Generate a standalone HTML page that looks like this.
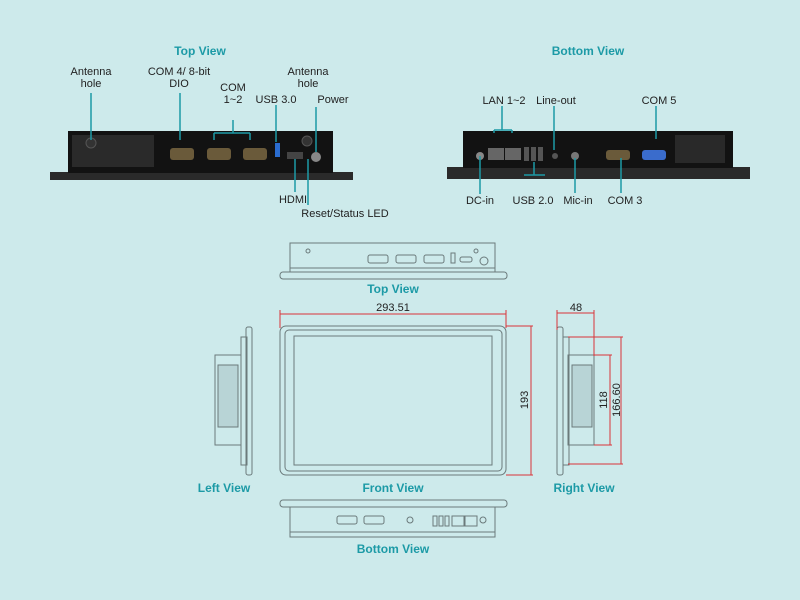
<!DOCTYPE html>
<html><head><style>
body{margin:0;background:#cdeaeb;}
svg{display:block;font-family:"Liberation Sans",sans-serif;}
.l{font-size:11px;fill:#222;text-anchor:middle;}
.t{font-size:12px;fill:#1c9aa6;font-weight:bold;text-anchor:middle;}
.c{stroke:#1c9aa6;stroke-width:1.5;fill:none;}
.d{stroke:#6b7a7b;stroke-width:1;fill:none;}
.r{stroke:#d9343a;stroke-width:1;fill:none;}
.n{font-size:11px;fill:#222;text-anchor:middle;}
</style></head><body>
<svg width="800" height="600" viewBox="0 0 800 600">
<rect width="800" height="600" fill="#cdeaeb"/>
<!-- Top photo -->
<text class="t" x="200" y="55">Top View</text>
<rect x="50" y="172" width="303" height="8" fill="#2a2a2a"/>
<rect x="68" y="131" width="265" height="42" fill="#121212"/>
<rect x="72" y="135" width="82" height="32" fill="#3a3a3a" opacity=".6"/>
<circle cx="91" cy="143" r="5" fill="#333" stroke="#555"/>
<circle cx="307" cy="141" r="5" fill="#333" stroke="#555"/>
<circle cx="316" cy="157" r="5" fill="#888"/>
<g fill="#6a5a3a"><rect x="170" y="148" width="24" height="12" rx="3"/><rect x="207" y="148" width="24" height="12" rx="3"/><rect x="243" y="148" width="24" height="12" rx="3"/></g>
<rect x="275" y="143" width="5" height="14" fill="#2a6ccf"/>
<rect x="287" y="152" width="16" height="7" fill="#444"/>
<g class="c"><path d="M91 93V140M180 93V140M233 120V133M214 133H250M214 133V140M250 133V140M276 105V142M316 107V152M295 159V192M308 159V205"/></g>
<text class="l" x="91" y="75">Antenna</text><text class="l" x="91" y="87">hole</text>
<text class="l" x="179" y="75">COM 4/ 8-bit</text><text class="l" x="179" y="87">DIO</text>
<text class="l" x="233" y="91">COM</text><text class="l" x="233" y="103">1~2</text>
<text class="l" x="276" y="103">USB 3.0</text>
<text class="l" x="308" y="75">Antenna</text><text class="l" x="308" y="87">hole</text>
<text class="l" x="333" y="103">Power</text>
<text class="l" x="293" y="203">HDMI</text>
<text class="l" x="345" y="217">Reset/Status LED</text>
<!-- Bottom photo -->
<text class="t" x="588" y="55">Bottom View</text>
<rect x="447" y="167" width="303" height="12" fill="#2a2a2a"/>
<rect x="463" y="131" width="270" height="37" fill="#121212"/>
<circle cx="480" cy="156" r="4" fill="#888"/>
<rect x="488" y="148" width="16" height="12" fill="#666"/><rect x="505" y="148" width="16" height="12" fill="#666"/>
<rect x="524" y="147" width="5" height="14" fill="#555"/><rect x="531" y="147" width="5" height="14" fill="#555"/><rect x="538" y="147" width="5" height="14" fill="#555"/>
<circle cx="555" cy="156" r="3" fill="#555"/><circle cx="575" cy="156" r="4" fill="#777"/>
<rect x="606" y="150" width="24" height="10" rx="3" fill="#6a5a3a"/>
<rect x="642" y="150" width="24" height="10" rx="3" fill="#3a6ccc"/>
<rect x="675" y="135" width="50" height="28" fill="#333" opacity=".7"/>
<g class="c"><path d="M502 106V130M494 130H512M494 130V133M512 130V133M554 106V150M656 106V139M480 156V194M534 162V175M524 175H545M575 158V193M621 158V193"/></g>
<text class="l" x="504" y="104">LAN 1~2</text>
<text class="l" x="556" y="104">Line-out</text>
<text class="l" x="659" y="104">COM 5</text>
<text class="l" x="480" y="204">DC-in</text>
<text class="l" x="533" y="204">USB 2.0</text>
<text class="l" x="578" y="204">Mic-in</text>
<text class="l" x="625" y="204">COM 3</text>
<!-- Drawings: top view -->
<g class="d">
<rect x="290" y="243" width="205" height="29"/>
<path d="M290 268H495"/>
<rect x="280" y="272" width="227" height="7" rx="3"/>
<rect x="368" y="255" width="20" height="8" rx="2"/><rect x="396" y="255" width="20" height="8" rx="2"/><rect x="424" y="255" width="20" height="8" rx="2"/>
<rect x="451" y="253" width="4" height="10"/><rect x="460" y="257" width="12" height="5" rx="2"/><circle cx="484" cy="261" r="4"/><circle cx="476" cy="251" r="2"/><circle cx="308" cy="251" r="2"/>
</g>
<text class="t" x="393" y="293">Top View</text>
<!-- front -->
<g class="d">
<rect x="280" y="326" width="226" height="149" rx="6"/>
<rect x="285" y="330" width="217" height="141" rx="4"/>
<rect x="294" y="336" width="198" height="129"/>
</g>
<g class="r"><path d="M280 314H506M280 310V328M506 310V328M506 326H533M506 475H533M531 326V475"/></g>
<text class="n" x="393" y="311">293.51</text>
<text class="n" x="0" y="0" transform="translate(528 400) rotate(-90)">193</text>
<text class="t" x="393" y="492">Front View</text>
<!-- left -->
<g class="d">
<rect x="246" y="327" width="6" height="148" rx="2"/>
<rect x="241" y="337" width="6" height="128"/>
<rect x="215" y="355" width="26" height="90"/>
<rect x="218" y="365" width="20" height="62" fill="#b8d4d6"/>
</g>
<text class="t" x="224" y="492">Left View</text>
<!-- right -->
<g class="d">
<rect x="557" y="327" width="6" height="148" rx="2"/>
<rect x="563" y="337" width="6" height="128"/>
<rect x="568" y="355" width="26" height="90"/>
<rect x="572" y="365" width="20" height="62" fill="#b8d4d6"/>
</g>
<g class="r"><path d="M557 313H594M557 310V330M594 310V356M594 355H612M594 445H612M610 355V445M568 337H623M568 464H623M621 337V464"/></g>
<text class="n" x="576" y="311">48</text>
<text class="n" transform="translate(607 400) rotate(-90)">118</text>
<text class="n" transform="translate(620 400) rotate(-90)">166.60</text>
<text class="t" x="584" y="492">Right View</text>
<!-- bottom -->
<g class="d">
<rect x="280" y="500" width="227" height="7" rx="3"/>
<rect x="290" y="507" width="205" height="30"/>
<path d="M290 532H495"/>
<rect x="337" y="516" width="20" height="8" rx="2"/><rect x="364" y="516" width="20" height="8" rx="2"/>
<circle cx="410" cy="520" r="3"/><rect x="433" y="516" width="4" height="10"/><rect x="439" y="516" width="4" height="10"/><rect x="445" y="516" width="4" height="10"/>
<rect x="452" y="516" width="12" height="10"/><rect x="465" y="516" width="12" height="10"/><circle cx="483" cy="520" r="3"/>
</g>
<text class="t" x="393" y="553">Bottom View</text>
</svg>
</body></html>
